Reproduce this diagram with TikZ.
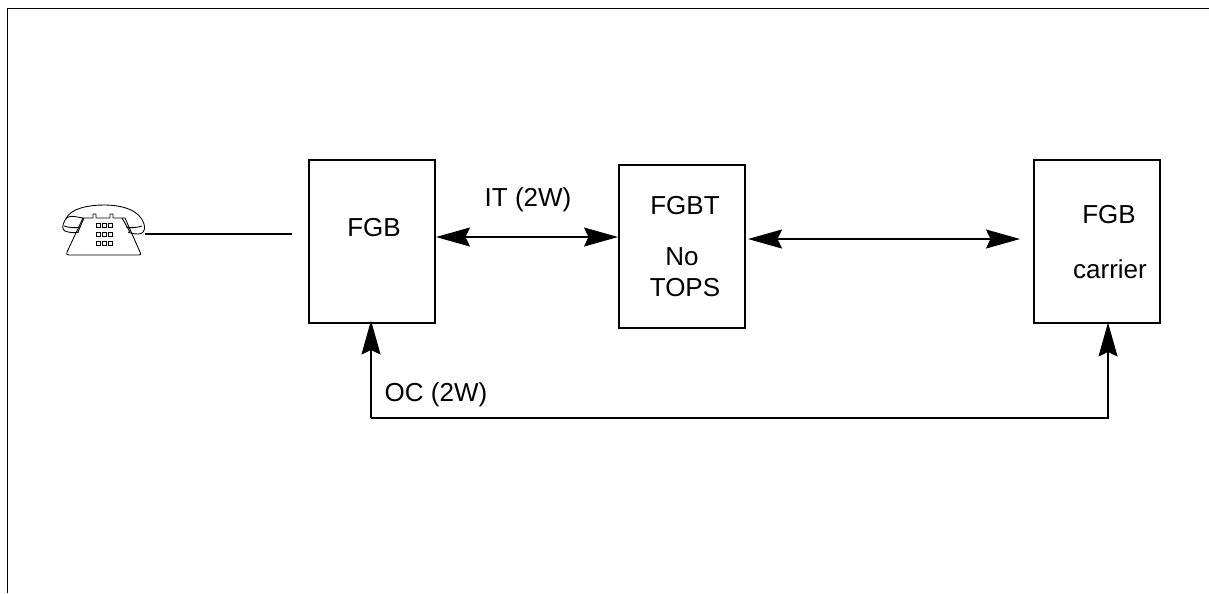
\documentclass[tikz,border=0pt]{standalone}
\usepackage{fontspec}
\setmainfont{Liberation Sans}
\usetikzlibrary{arrows.meta}
\usetikzlibrary{positioning}
\tikzset{
  unitbox/.style={draw,line width=.95pt,minimum width=2.52cm,minimum height=3.26cm,outer sep=0pt,inner sep=0pt},
  lbl/.style={inner sep=0pt,anchor=base,font=\fontsize{14.8pt}{17pt}\selectfont},
  trunk/.style={line width=.95pt,{Stealth[length=.68cm,width=.38cm,inset=.09cm]}-{Stealth[length=.68cm,width=.38cm,inset=.09cm]}},
  oneway/.style={line width=.95pt,-{Stealth[length=.68cm,width=.38cm,inset=.09cm]}},
  key/.style={line width=.4pt}
}
\begin{document}
\begin{tikzpicture}[x=.02cm,y=-.02cm]
\useasboundingbox (0,0) rectangle (1209,593);
\coordinate (framer) at (1209,8);
\coordinate (frametl) at (7,8);
\coordinate (framel) at (7,593);
\draw[line width=.55pt] (framer)--(frametl)--(framel);
\node[unitbox] (fgb) at (372,241.5) {};
\node[unitbox] (fgbt) at (682,246.5) {};
\node[unitbox] (carrier) at (1097,241.5) {};
\node[lbl] (fgbname) at (374,236) {FGB};
\node[lbl] (fgbtname) at (685,214) {FGBT};
\node[lbl] (noname) at (682,265) {No};
\node[lbl] (topsname) at (685,296) {TOPS};
\node[lbl] (carriername) at (1109,223) {FGB};
\node[lbl] (carrierkind) at (1110,278) {carrier};
\node[lbl] (itname) at (528,206) {IT (2W)};
\node[lbl] (ocname) at (436,401) {OC (2W)};
\coordinate (fgbout) at (436,237);
\coordinate (fgbtin) at (618,237);
\draw[trunk] (fgbout)--(fgbtin);
\coordinate (fgbtout) at (748,239);
\coordinate (carrierin) at (1020,239);
\draw[trunk] (fgbtout)--(carrierin);
\coordinate (ocleft) at (371,418);
\coordinate (ocright) at (1108,418);
\draw[oneway] (ocleft)--([yshift=.05cm]ocleft|-fgb.south);
\draw[oneway] (ocleft)--(ocright)--([yshift=.01cm]ocright|-carrier.south);
\coordinate (phone) at (145,234);
\coordinate (cordend) at (292,234);
\draw[line width=.8pt] (phone)--(cordend);
\draw[line width=.5pt,line join=round] (83,218) .. controls (72,216) and (68,215) .. (65,220) .. controls (62,226) and (62,229) .. (65,231) .. controls (70,233) and (76,233) .. (79,232);
\draw[line width=.5pt] (66,219) .. controls (70,208) and (90,205) .. (104,205) .. controls (122,205) and (140,210) .. (144,224) .. controls (146,232) and (142,234) .. (138,234) .. controls (134,234) and (130,233) .. (128,232);
\draw[line width=.5pt] (64,226) .. controls (70,228) and (76,228) .. (80,227);
\draw[line width=.5pt] (142,226) .. controls (136,228) and (130,228) .. (126,227);
\draw[line width=.5pt,line join=round] (67,252) .. controls (66,254) and (67,255) .. (69,255)--(139,255) .. controls (141,255) and (141,254) .. (140,252)--(125,218)--(113,218)--(113,214)--(110,214)--(110,218)--(96,218)--(96,214)--(93,214)--(93,218)--(83,218)--cycle;
\draw[line width=.5pt] (78,232)--(84,218) (130,232)--(122,218);
\foreach \row in {223,232,241} {
  \foreach \col in {96,102,108} {
    \draw[key] (\col,\row) rectangle ++(4,4);
  }
}
\end{tikzpicture}
\end{document}
